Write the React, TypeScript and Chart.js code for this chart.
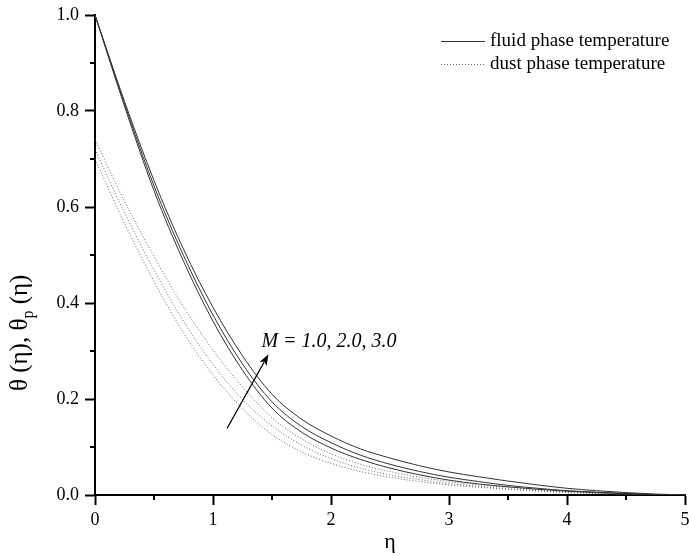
import { useEffect, useRef } from "react";
import { Chart, registerables } from "chart.js";

Chart.register(...registerables);

// ---- data ----
const etaValues = [0, 0.25, 0.5, 0.75, 1, 1.25, 1.5, 1.75, 2, 2.25, 2.5, 2.75, 3, 3.25, 3.5, 3.75, 4, 4.25, 4.5, 4.75, 5];

const fluidM1 = [1.0, 0.81, 0.634, 0.487, 0.362, 0.26, 0.181, 0.131, 0.098, 0.074, 0.056, 0.042, 0.031, 0.023, 0.017, 0.012, 0.008, 0.005, 0.003, 0.001, 0.0];
const fluidM2 = [1.0, 0.815, 0.644, 0.499, 0.375, 0.273, 0.194, 0.143, 0.109, 0.083, 0.064, 0.049, 0.037, 0.028, 0.02, 0.014, 0.009, 0.006, 0.003, 0.001, 0.0];
const fluidM3 = [1.0, 0.82, 0.655, 0.512, 0.391, 0.29, 0.21, 0.158, 0.123, 0.096, 0.077, 0.061, 0.048, 0.038, 0.029, 0.021, 0.014, 0.009, 0.005, 0.002, 0.0];

const dustM1 = [0.7, 0.566, 0.445, 0.338, 0.25, 0.18, 0.126, 0.09, 0.066, 0.049, 0.037, 0.028, 0.021, 0.016, 0.012, 0.008, 0.005, 0.003, 0.002, 0.001, 0.0];
const dustM2 = [0.72, 0.588, 0.469, 0.362, 0.272, 0.199, 0.144, 0.104, 0.076, 0.056, 0.042, 0.032, 0.024, 0.018, 0.013, 0.009, 0.006, 0.004, 0.002, 0.001, 0.0];
const dustM3 = [0.74, 0.612, 0.497, 0.392, 0.302, 0.225, 0.161, 0.117, 0.086, 0.064, 0.049, 0.037, 0.028, 0.021, 0.016, 0.011, 0.007, 0.004, 0.002, 0.001, 0.0];

const xMinorTicks = [0.5, 1.5, 2.5, 3.5, 4.5];
const yMinorTicks = [0.1, 0.3, 0.5, 0.7, 0.9];
const legendLabels = ["fluid phase temperature", "dust phase temperature"];
const annotationText = "M = 1.0, 2.0, 3.0";
// arrow in data coordinates: [eta, theta]
const arrowTail = [1.12, 0.139];
const arrowHead = [1.47, 0.293];
const annotationPos = [1.41, 0.32];

const FONT = '"Liberation Serif", "Times New Roman", serif';
const SOLID = "#333333";
const DOTTED = "#666666";

const toPoints = (ys: number[]) => etaValues.map((x, i) => ({ x, y: ys[i] }));

const decorPlugin = {
  id: "decor",
  beforeDraw(chart: any) {
    const { ctx, width, height } = chart;
    ctx.save();
    ctx.fillStyle = "#ffffff";
    ctx.fillRect(0, 0, width, height);
    ctx.restore();
  },
  afterDraw(chart: any) {
    const { ctx, chartArea } = chart;
    const x = chart.scales.x;
    const y = chart.scales.y;
    ctx.save();
    // minor ticks
    ctx.strokeStyle = "#000";
    ctx.lineWidth = 2;
    xMinorTicks.forEach((v) => {
      const px = Math.round(x.getPixelForValue(v));
      ctx.beginPath();
      ctx.moveTo(px, chartArea.bottom);
      ctx.lineTo(px, chartArea.bottom + 5);
      ctx.stroke();
    });
    yMinorTicks.forEach((v) => {
      const py = Math.round(y.getPixelForValue(v));
      ctx.beginPath();
      ctx.moveTo(chartArea.left, py);
      ctx.lineTo(chartArea.left - 5, py);
      ctx.stroke();
    });

    // legend
    ctx.font = `19px ${FONT}`;
    ctx.fillStyle = "#000";
    ctx.textBaseline = "middle";
    ctx.textAlign = "left";
    const lx0 = 441, lx1 = 485, tx = 490;
    const rows = [41, 64];
    legendLabels.forEach((lab, i) => {
      ctx.beginPath();
      ctx.lineWidth = 1;
      ctx.strokeStyle = i === 0 ? SOLID : DOTTED;
      ctx.setLineDash(i === 0 ? [] : [1, 2]);
      ctx.moveTo(lx0, rows[i] + 0.5);
      ctx.lineTo(lx1, rows[i] + 0.5);
      ctx.stroke();
      ctx.setLineDash([]);
      ctx.fillText(lab, tx, rows[i]);
    });

    // arrow
    const ax0 = x.getPixelForValue(arrowTail[0]);
    const ay0 = y.getPixelForValue(arrowTail[1]);
    const ax1 = x.getPixelForValue(arrowHead[0]);
    const ay1 = y.getPixelForValue(arrowHead[1]);
    const ang = Math.atan2(ay1 - ay0, ax1 - ax0);
    const hl = 11, hw = 4;
    ctx.strokeStyle = "#000";
    ctx.fillStyle = "#000";
    ctx.lineWidth = 1.3;
    ctx.beginPath();
    ctx.moveTo(ax0, ay0);
    ctx.lineTo(ax1 - Math.cos(ang) * hl * 0.8, ay1 - Math.sin(ang) * hl * 0.8);
    ctx.stroke();
    ctx.beginPath();
    ctx.moveTo(ax1, ay1);
    ctx.lineTo(ax1 - Math.cos(ang) * hl - Math.sin(ang) * hw, ay1 - Math.sin(ang) * hl + Math.cos(ang) * hw);
    ctx.lineTo(ax1 - Math.cos(ang) * hl * 0.75, ay1 - Math.sin(ang) * hl * 0.75);
    ctx.lineTo(ax1 - Math.cos(ang) * hl + Math.sin(ang) * hw, ay1 - Math.sin(ang) * hl - Math.cos(ang) * hw);
    ctx.closePath();
    ctx.fill();

    // annotation text
    ctx.font = `italic 20px ${FONT}`;
    ctx.textBaseline = "middle";
    ctx.fillText(annotationText, x.getPixelForValue(annotationPos[0]), y.getPixelForValue(annotationPos[1]));

    // x title
    ctx.font = `22px ${FONT}`;
    ctx.textAlign = "center";
    ctx.textBaseline = "alphabetic";
    ctx.fillText("η", (chartArea.left + chartArea.right) / 2, 548);

    // y title with subscript
    ctx.save();
    ctx.translate(27, 391);
    ctx.rotate(-Math.PI / 2);
    ctx.textAlign = "left";
    ctx.textBaseline = "alphabetic";
    const main1 = "θ (η), θ";
    const main2 = " (η)";
    ctx.font = `25px ${FONT}`;
    let cx = 0;
    ctx.fillText(main1, cx, 0);
    cx += ctx.measureText(main1).width;
    ctx.font = `16px ${FONT}`;
    ctx.fillText("p", cx, 6);
    cx += ctx.measureText("p").width;
    ctx.font = `25px ${FONT}`;
    ctx.fillText(main2, cx, 0);
    ctx.restore();

    ctx.restore();
  },
};

export default function App() {
  const ref = useRef<HTMLCanvasElement | null>(null);

  useEffect(() => {
    if (!ref.current) return;
    const mk = (data: number[], dotted: boolean, label: string) => ({
      label,
      data: toPoints(data),
      borderColor: dotted ? DOTTED : SOLID,
      borderWidth: 1,
      borderDash: dotted ? [1, 2] : [],
      pointRadius: 0,
      fill: false,
      cubicInterpolationMode: "monotone" as const,
    });
    const chart = new Chart(ref.current, {
      type: "line",
      data: {
        datasets: [
          mk(fluidM1, false, "fluid M=1.0"),
          mk(fluidM2, false, "fluid M=2.0"),
          mk(fluidM3, false, "fluid M=3.0"),
          mk(dustM1, true, "dust M=1.0"),
          mk(dustM2, true, "dust M=2.0"),
          mk(dustM3, true, "dust M=3.0"),
        ],
      },
      options: {
        responsive: false,
        animation: false,
        devicePixelRatio: 1,
        layout: { padding: { top: 15, right: 4, left: 0, bottom: 0 } },
        plugins: { legend: { display: false }, tooltip: { enabled: false } },
        scales: {
          x: {
            type: "linear",
            min: 0,
            max: 5,
            ticks: {
              stepSize: 1,
              padding: 4,
              color: "#000",
              font: { family: FONT, size: 18 },
              maxRotation: 0,
              callback: (v: any) => String(v),
            },
            grid: { drawOnChartArea: false, drawTicks: true, tickLength: 10, tickColor: "#000", tickWidth: 2 },
            border: { display: true, color: "#000", width: 2 },
            afterFit: (s: any) => {
              s.height = 61;
              s.paddingLeft = 0;
              s.paddingRight = 0;
            },
          },
          y: {
            type: "linear",
            min: 0,
            max: 1,
            ticks: {
              stepSize: 0.2,
              padding: 6,
              color: "#000",
              font: { family: FONT, size: 18 },
              callback: (v: any) => Number(v).toFixed(1),
            },
            grid: { drawOnChartArea: false, drawTicks: true, tickLength: 10, tickColor: "#000", tickWidth: 2 },
            border: { display: true, color: "#000", width: 2 },
            afterFit: (s: any) => {
              s.width = 95;
              s.paddingTop = 0;
              s.paddingBottom = 0;
            },
          },
        },
      },
      plugins: [decorPlugin],
    });
    return () => chart.destroy();
  }, []);

  return (
    <div style={{ position: "fixed", left: 0, top: 0, width: 689, height: 556, background: "#fff" }}>
      <canvas ref={ref} width={689} height={556} style={{ width: 689, height: 556, display: "block" }} />
    </div>
  );
}
